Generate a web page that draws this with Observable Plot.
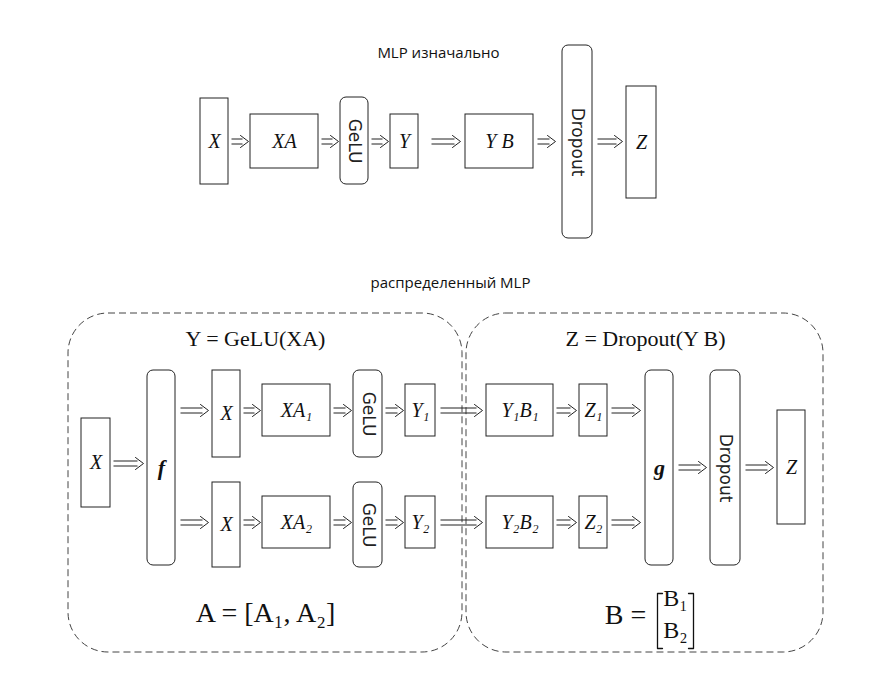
<!DOCTYPE html>
<html><head><meta charset="utf-8">
<script src="https://cdn.jsdelivr.net/npm/d3@7"></script>
<script src="https://cdn.jsdelivr.net/npm/@observablehq/plot@0.6"></script>
<style>body{margin:0;background:#fff}</style>
</head><body><div id="chart"></div>
<script>
// boxes: [x1, x2, y1, y2, label, kind]  kind: b = box, r = rounded, v = rounded + vertical text, bold = bold letter
const boxes = [
  [200,228,98,184,"X","b"],[250,318,114,168,"XA","b"],[340,368,97,184,"GeLU","v"],
  [390,418,114,168,"Y","b"],[465,533,114,168,"Y B","b"],[562,592,45,238,"Dropout","v"],
  [626,656,86,198,"Z","b"],
  [81,110,418,507,"X","b"],[147,175,370,565,"f","bold"],
  [212,240,370,457,"X","b"],[262,330,384,436,"XA₁","b"],[353,382,370,457,"GeLU","v"],
  [405,435,384,436,"Y₁","b"],[486,553,384,436,"Y₁B₁","b"],[579,607,384,436,"Z₁","b"],
  [212,240,482,567,"X","b"],[262,330,496,548,"XA₂","b"],[353,382,482,567,"GeLU","v"],
  [405,435,496,548,"Y₂","b"],[486,553,496,548,"Y₂B₂","b"],[579,607,496,548,"Z₂","b"],
  [645,673,370,565,"g","bold"],[710,740,370,565,"Dropout","v"],[777,805,410,524,"Z","b"]
];
// arrows: [x1, x2, y]
const arrows = [
  [231,248,141],[321,338,141],[371,388,141],[431,460,141],[537,555,141],[597,622,141],
  [113,143,463],[180,208,410],[180,208,522],[243,260,410],[243,260,522],
  [333,351,410],[333,351,522],[385,403,410],[385,403,522],[440,482,410],[440,482,522],
  [556,576,410],[556,576,522],[611,640,410],[611,640,522],[678,706,467],[745,773,467]
];
const regions = [[68,462,313,652],[466,823,313,652]];
const titles = [[438,53,"MLP изначально"],[450,283,"распределенный MLP"]];
const formulas = [[255,338,"Y = GeLU(XA)",22],[645,338,"Z = Dropout(Y B)",22],[265,613,"A = [A₁, A₂]",28],[625,615,"B =",28]];
const matrixB = [[675,598,"B₁"],[675,630,"B₂"]];

const serif = "Liberation Serif, DejaVu Serif, serif";
const rect = k => boxes.filter(b => k.includes(b[5]));
const shafts = arrows.flatMap(([a,b,y]) => [[a,b-6,y-2.5],[a,b-6,y+2.5]]);
const heads = arrows.flatMap(([a,b,y],i) => [[b-8,y-6,i],[b,y,i],[b-8,y+6,i]]);
const bracket = [[662,593,0],[657,593,0],[657,648,0],[662,648,0],[688,593,1],[693,593,1],[693,648,1],[688,648,1]];

const chart = Plot.plot({
  width: 891, height: 693, margin: 0,
  x: {domain: [0,891], range: [0,891], axis: null},
  y: {domain: [0,693], range: [0,693], axis: null},
  marks: [
    Plot.rect(regions, {x1: d=>d[0], x2: d=>d[1], y1: d=>d[2], y2: d=>d[3], fill: "none", stroke: "#444", strokeDasharray: "7,4", rx: 40}),
    Plot.rect(rect(["b"]), {x1: d=>d[0], x2: d=>d[1], y1: d=>d[2], y2: d=>d[3], fill: "white", stroke: "#222"}),
    Plot.rect(rect(["v","bold"]), {x1: d=>d[0], x2: d=>d[1], y1: d=>d[2], y2: d=>d[3], fill: "white", stroke: "#222", rx: 6}),
    Plot.text(rect(["b"]), {x: d=>(d[0]+d[1])/2, y: d=>(d[2]+d[3])/2, text: d=>d[4], fontFamily: serif, fontStyle: "italic", fontSize: 20, fill: "#111"}),
    Plot.text(rect(["bold"]), {x: d=>(d[0]+d[1])/2, y: d=>(d[2]+d[3])/2, text: d=>d[4], fontFamily: serif, fontStyle: "italic", fontWeight: "bold", fontSize: 22, fill: "#111"}),
    Plot.text(rect(["v"]), {x: d=>(d[0]+d[1])/2, y: d=>(d[2]+d[3])/2, text: d=>d[4], rotate: 90, fontFamily: "DejaVu Sans, sans-serif", fontSize: 17, fill: "#222"}),
    Plot.link(shafts, {x1: d=>d[0], x2: d=>d[1], y1: d=>d[2], y2: d=>d[2], stroke: "#222", strokeWidth: 1}),
    Plot.line(heads, {x: d=>d[0], y: d=>d[1], z: d=>d[2], stroke: "#222", strokeWidth: 1}),
    Plot.text(titles, {x: d=>d[0], y: d=>d[1], text: d=>d[2], fontFamily: "Open Sans, Noto Sans, sans-serif", fontSize: 15, fill: "#111"}),
    Plot.text(formulas, {x: d=>d[0], y: d=>d[1], text: d=>d[2], fontSize: d=>d[3], fontFamily: serif, fill: "#111"}),
    Plot.text(matrixB, {x: d=>d[0], y: d=>d[1], text: d=>d[2], fontSize: 24, fontFamily: serif, fill: "#111"}),
    Plot.line(bracket, {x: d=>d[0], y: d=>d[1], z: d=>d[2], stroke: "#111", strokeWidth: 1.3})
  ]
});
document.getElementById("chart").append(chart);
</script></body></html>
